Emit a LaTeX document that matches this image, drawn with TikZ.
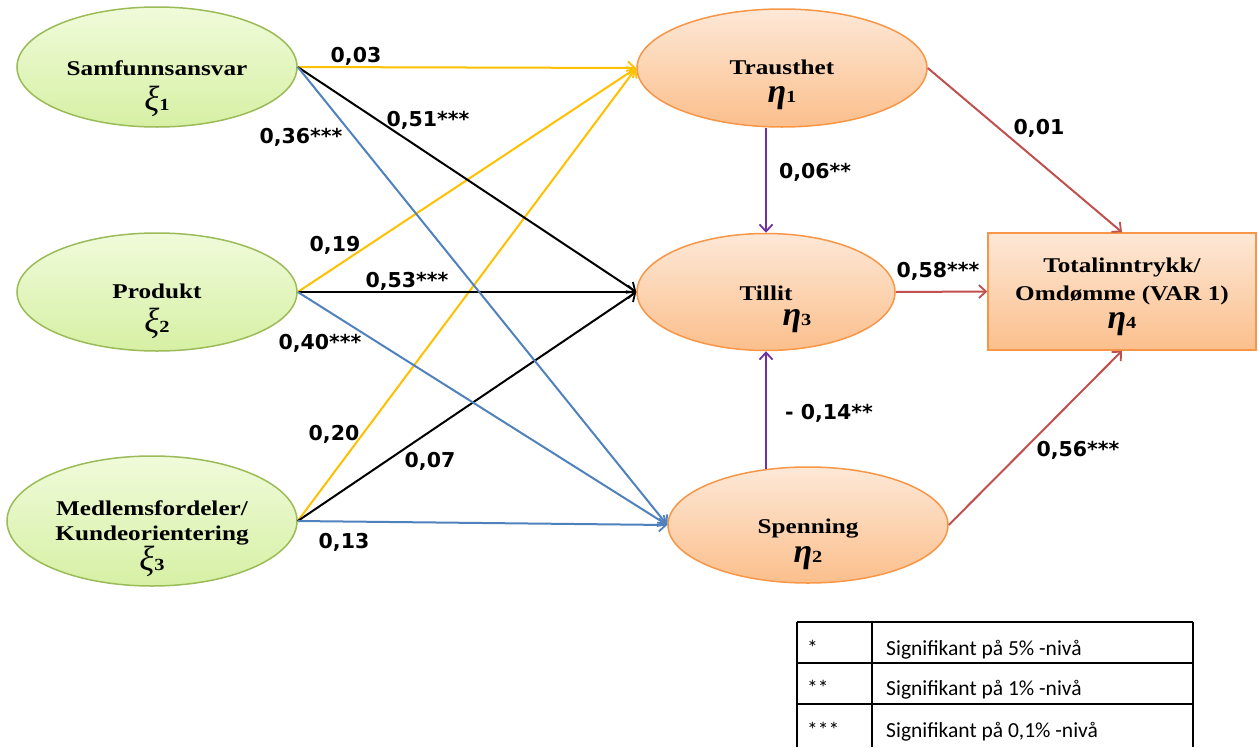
\documentclass[tikz,border=0pt]{standalone}
\usepackage{fontspec}
\usetikzlibrary{shapes.geometric,arrows.meta,calc}
\newfontfamily\nodefont[FakeStretch=1.2]{Liberation Serif}
\newfontfamily\greekfont{Liberation Serif}
\newfontfamily\labelfont{DejaVu Sans}
\newfontfamily\legendfont{Carlito}

\definecolor{greenfilltop}{HTML}{F0FBDA}
\definecolor{greenfillbot}{HTML}{D6F0A4}
\definecolor{greenline}{HTML}{9BBB59}
\definecolor{orfilltop}{HTML}{FDE8D7}
\definecolor{orfillbot}{HTML}{FBBF8C}
\definecolor{orline}{HTML}{F79646}
\definecolor{pathyellow}{HTML}{FFC000}
\definecolor{pathblue}{HTML}{4F81BD}
\definecolor{pathpurple}{HTML}{7030A0}
\definecolor{pathred}{HTML}{C0504D}

% latent variable symbols with index
\newcommand\xivar[1]{{\greekfont\itshape\fontsize{35}{35}\selectfont ξ}{\nodefont\bfseries\fontsize{17}{17}\selectfont#1}}
\newcommand\etavar[1]{{\greekfont\bfseries\itshape\fontsize{34}{34}\selectfont η}{\nodefont\bfseries\fontsize{17}{17}\selectfont#1}}

\tikzset{
  exog/.style={ellipse, draw=greenline, line width=1.5pt, top color=greenfilltop, bottom color=greenfillbot, inner sep=0pt},
  endog/.style={ellipse, draw=orline, line width=1.5pt, top color=orfilltop, bottom color=orfillbot, inner sep=0pt},
  outcome/.style={rectangle, draw=orline, line width=1.5pt, top color=orfilltop, bottom color=orfillbot, inner sep=0pt},
  vname/.style={font=\nodefont\bfseries\fontsize{21}{25}\selectfont, align=center, anchor=base, inner sep=0pt},
  vsym/.style={anchor=base, inner sep=0pt},
  coef/.style={font=\labelfont\bfseries\fontsize{20.5}{24}\selectfont, inner sep=0pt},
  link/.style={line width=2pt, -{Straight Barb[length=7pt,width=13pt,line width=1.8pt]}},
  legtext/.style={font=\legendfont\fontsize{21.5}{25}\selectfont, anchor=base west, inner sep=0pt},
}

\begin{document}
\begin{tikzpicture}[x=1pt,y=-1pt]
\useasboundingbox (0,0) rectangle (1258,747);

% exogenous variables
\node[exog, minimum width=280pt, minimum height=120pt] (samf) at (157,67) {};
\node[exog, minimum width=280pt, minimum height=118pt] (prod) at (157,292) {};
\node[exog, minimum width=290pt, minimum height=130pt] (medl) at (152,521) {};

% endogenous variables
\node[endog, minimum width=290pt, minimum height=118pt] (traus) at (782,68) {};
\node[endog, minimum width=258pt, minimum height=117pt] (tillit) at (766,292) {};
\node[endog, minimum width=280pt, minimum height=116pt] (spen) at (808,525) {};
\node[outcome, minimum width=268pt, minimum height=117pt] (total) at (1122,291.5) {};

% names and symbols (multi-line names sit on their last baseline)
\node[vname] (samfT) at (157,75) {Samfunnsansvar};
\node[vsym] (samfS) at (157,110) {\xivar{1}};
\node[vname] (prodT) at (157,298) {Produkt};
\node[vsym] (prodS) at (157,332) {\xivar{2}};
\node[vname] (medlT) at (152,540) {Medlemsfordeler/\\Kundeorientering};
\node[vsym] (medlS) at (152,570) {\xivar{3}};
\node[vname] (trausT) at (782,74) {Trausthet};
\node[vsym] (trausS) at (782,102) {\etavar{1}};
\node[vname] (tillitT) at (766,300) {Tillit};
\node[vsym] (tillitS) at (797,325) {\etavar{3}};
\node[vname] (spenT) at (808,533) {Spenning};
\node[vsym] (spenS) at (808,562) {\etavar{2}};
\node[vname, font=\nodefont\bfseries\fontsize{21}{28}\selectfont] (totalT) at (1122,300) {Totalinntrykk/\\Omdømme (VAR 1)};
\node[vsym] (totalS) at (1122,328) {\etavar{4}};

% paths to Trausthet
\draw[link, pathyellow] (samf.east) -- (traus.west);
\draw[link, pathyellow] (prod.east) -- (traus.west);
\draw[link, pathyellow] (medl.east) -- (traus.west);
% paths to Tillit
\draw[link, black] (samf.east) -- (tillit.west);
\draw[link, black] (prod.east) -- (tillit.west);
\draw[link, black] (medl.east) -- (tillit.west);
% paths to Spenning
\draw[link, pathblue] (samf.east) -- (spen.west);
\draw[link, pathblue] (prod.east) -- (spen.west);
\draw[link, pathblue] (medl.east) -- (spen.west);
% paths between mediators
\draw[link, pathpurple] (tillit.north |- traus.south) -- (tillit.north);
\draw[link, pathpurple] ($(tillit.south |- spen.north)+(0,3)$) -- (tillit.south);
% paths to the outcome
\draw[link, pathred] (traus.east) -- (total.north);
\draw[link, pathred] (tillit.east) -- (total.west);
\draw[link, pathred] (spen.east) -- (total.south);

% coefficients
\node[coef] (c1) at (356,56) {0,03};
\node[coef] (c2) at (428,120) {0,51***};
\node[coef] (c3) at (301,137) {0,36***};
\node[coef] (c4) at (335,245) {0,19};
\node[coef] (c5) at (407,281) {0,53***};
\node[coef] (c6) at (320,343) {0,40***};
\node[coef] (c7) at (334,434) {0,20};
\node[coef] (c8) at (430,461) {0,07};
\node[coef] (c9) at (344,542) {0,13};
\node[coef] (c10) at (815,172) {0,06**};
\node[coef] (c11) at (829,413) {- 0,14**};
\node[coef] (c12) at (1039,128) {0,01};
\node[coef] (c13) at (938,271) {0,58***};
\node[coef] (c14) at (1078,450) {0,56***};

% significance legend
\draw[line width=1.6pt] (797,622) -- (1193,622);
\draw[line width=1.6pt] (797,663) -- (1193,663);
\draw[line width=1.6pt] (797,704) -- (1193,704);
\draw[line width=1.6pt] (797,622) -- (797,747);
\draw[line width=1.6pt] (872,622) -- (872,747);
\draw[line width=1.6pt] (1193,622) -- (1193,747);
\node[legtext] (l1a) at (807,655) {*};
\node[legtext] (l1b) at (886,655) {Signifikant på 5\% -nivå};
\node[legtext] (l2a) at (807,695) {**};
\node[legtext] (l2b) at (886,695) {Signifikant på 1\% -nivå};
\node[legtext] (l3a) at (807,737) {***};
\node[legtext] (l3b) at (886,737) {Signifikant på 0,1\% -nivå};
\end{tikzpicture}
\end{document}
